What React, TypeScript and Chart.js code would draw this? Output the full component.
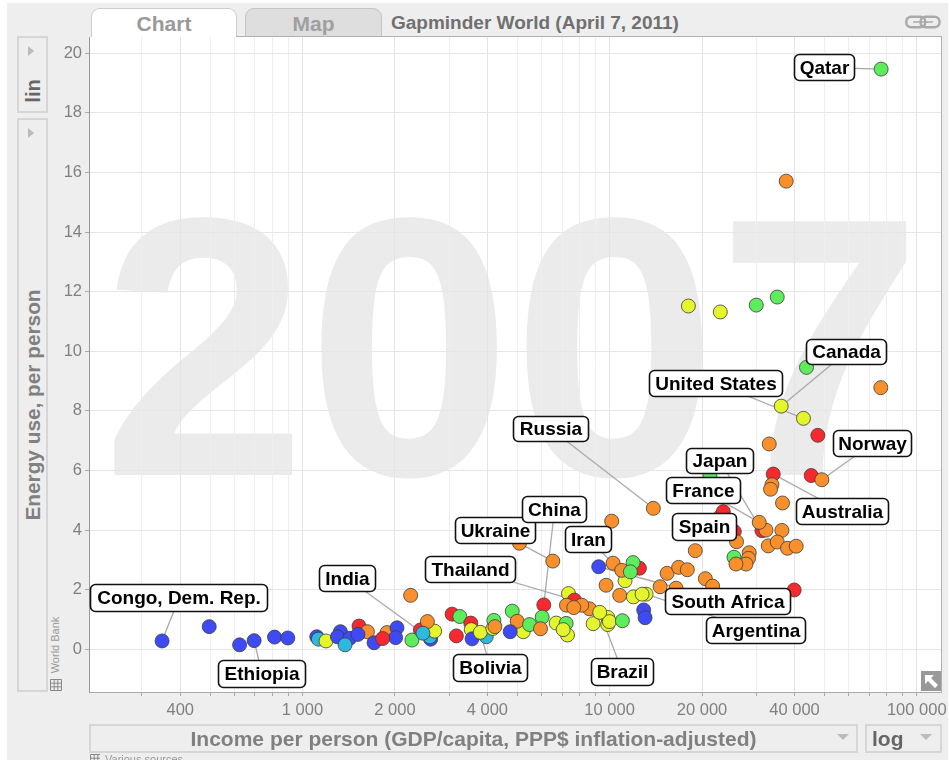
import React, { useEffect, useRef } from "react";
import { Chart, registerables } from "chart.js";

Chart.register(...registerables);

const FONT = '"Liberation Sans", Arial, sans-serif';

const regions = ["Sub-Saharan Africa", "South Asia", "Middle East & North Africa", "America", "Europe & Central Asia", "East Asia & Pacific"];
const regionColors = ["#3d4af5", "#2cb9dd", "#5cec5c", "#e4f52b", "#f9902c", "#f7292e"];
const B = 0, C = 1, G = 2, Y = 3, O = 4, R = 5;

const income = [
  349, 497, 624, 696, 811, 896, 1113, 1127, 1193, 1528, 1627, 1329, 1300, 1425, 1516, 1376, 1710, 1884, 2031, 2011, 1824,
  2420, 2614, 2600, 2693, 2551, 2272, 2467, 2250, 3070, 3252, 3532, 3170, 3545, 3566, 3967, 3793, 4167, 4199, 4230,
  4819, 5234, 5002, 4747, 5486, 6105, 6032, 5957, 6531, 5090, 10157, 13880,
  9215, 12500, 11230, 11925, 10265, 10950, 11685, 9741, 10785, 11950, 13145, 12760, 12910, 13045,
  7347, 7683, 8597, 8117, 7236, 7644, 9858, 8837, 9858, 9984, 11005, 9285, 6700, 7219, 7291, 7060,
  76560, 37580, 18050, 22930, 30020, 35140, 43750, 76380, 36200, 42770, 47640, 33090, 34100, 45330, 49090, 33770, 33420, 36560,
  21220, 22930, 23450, 31330, 32290, 30700, 36390, 25470, 25900, 32850, 35140, 37950, 40500, 19010, 25410, 28480, 28330, 27800, 25790,
  15390, 16780, 17910, 20500, 21640, 14600, 16460, 39900,
];
const energy = [
  0.28, 0.76, 0.15, 0.29, 0.41, 0.38, 0.42, 0.34, 0.28, 0.78, 0.59, 0.59, 0.42, 0.37, 0.5, 0.15, 0.22, 0.56, 0.72, 0.39, 0.36,
  0.65, 0.34, 0.42, 0.61, 0.93, 0.31, 0.54, 1.81, 1.18, 1.1, 0.88, 0.45, 0.66, 0.35, 0.42, 0.57, 0.7, 0.97, 0.76,
  1.28, 0.59, 0.94, 0.59, 0.83, 1.49, 1.08, 0.69, 2.96, 3.56, 4.3, 4.73,
  2.77, 2.72, 2.3, 2.91, 2.89, 2.65, 2.6, 2.15, 1.81, 1.76, 1.85, 1.85, 1.32, 1.06,
  1.87, 1.65, 1.36, 1.48, 1.48, 1.4, 1.07, 0.86, 0.83, 0.93, 0.96, 1.24, 0.88, 0.87, 0.48, 0.66,
  19.47, 15.71, 11.52, 11.32, 11.55, 11.82, 9.46, 8.78, 8.16, 7.75, 7.18, 6.89, 5.88, 5.83, 5.69, 5.52, 5.37, 4.91,
  5.82, 4.45, 4.62, 3.98, 4.0, 4.26, 3.99, 3.95, 3.61, 3.47, 3.6, 3.39, 3.46, 3.31, 3.09, 3.24, 3.05, 2.86, 2.86,
  2.55, 2.75, 2.67, 2.37, 2.12, 2.1, 2.05, 1.99,
];
const regionOf = [
  B, B, B, B, B, B, B, C, Y, R, O, B, B, B, B, C, B, O, B, B, R,
  R, B, C, Y, O, G, C, O, R, G, R, R, Y, B, C, Y, Y, G, O,
  G, Y, O, B, G, R, G, O, O, O, O, O,
  B, R, Y, G, O, O, G, O, O, Y, Y, Y, B, B,
  Y, R, O, O, O, O, Y, Y, Y, Y, G, Y, Y, G, Y, Y,
  G, O, Y, Y, G, G, G, O, Y, Y, R, O, R, R, O, O, O, O,
  G, O, R, R, O, O, O, R, O, O, O, O, O, O, G, O, O, O, O,
  O, O, O, O, O, O, O, R,
];

const yearLabel = "2007";
const labelNames = ["Qatar", "Canada", "United States", "Norway", "Japan", "France", "Australia", "Spain", "Russia", "Ukraine", "China", "Iran", "Thailand", "South Africa", "Argentina", "Brazil", "Bolivia", "India", "Congo, Dem. Rep.", "Ethiopia"];
const labelIncome = [76560, 36200, 42770, 49090, 31330, 30700, 34100, 25900, 13880, 6531, 6105, 10265, 7683, 9215, 13145, 9285, 3793, 2467, 349, 696];
// label box layout in canvas pixels: left, top, right, bottom
const labelBoxes = [
  [794, 54, 855, 81], [806, 339, 887, 365], [649, 370, 783, 397], [833, 430, 912, 457], [686, 448, 754, 474],
  [666, 477, 741, 504], [796, 498, 889, 525], [672, 513, 737, 541], [513, 416, 589, 442], [455, 517, 536, 544],
  [522, 496, 587, 523], [565, 526, 612, 553], [425, 556, 516, 583], [665, 588, 791, 615], [706, 617, 806, 644],
  [591, 658, 654, 686], [453, 654, 528, 682], [319, 565, 376, 592], [90, 584, 268, 612], [218, 660, 306, 688],
];

const xTicks = [300, 400, 500, 600, 700, 800, 900, 1000, 2000, 3000, 4000, 5000, 6000, 7000, 8000, 9000, 10000, 20000, 30000, 40000, 50000, 60000, 70000, 80000, 90000, 100000];
const xLabelled = [400, 1000, 2000, 4000, 10000, 20000, 40000, 100000];
const yTicks = [0, 2, 4, 6, 8, 10, 12, 14, 16, 18, 20];

const overlay = {
  id: "overlay",
  beforeDraw(chart: any) {
    const { ctx, chartArea: a } = chart;
    ctx.save();
    ctx.fillStyle = "#ffffff";
    ctx.fillRect(a.left, a.top, a.right - a.left, a.bottom - a.top);
    ctx.fillStyle = "#ebebeb";
    ctx.textAlign = "center";
    ctx.textBaseline = "alphabetic";
    ctx.font = `bold 369px ${FONT}`;
    ctx.fillText(yearLabel, 512, 475);
    ctx.restore();
  },
  beforeDatasetsDraw(chart: any) {
    const { ctx, chartArea: a, scales } = chart;
    ctx.save();
    ctx.strokeStyle = "#b0b0b0";
    ctx.lineWidth = 1;
    ctx.beginPath();
    ctx.moveTo(a.right + 0.5, a.top);
    ctx.lineTo(a.right + 0.5, a.bottom);
    ctx.moveTo(236, a.top - 0.5);
    ctx.lineTo(a.right + 1, a.top - 0.5);
    ctx.stroke();
    ctx.strokeStyle = "#aaaaaa";
    ctx.lineWidth = 1.3;
    labelNames.forEach((_, i) => {
      const k = income.indexOf(labelIncome[i]);
      const b = labelBoxes[i];
      ctx.beginPath();
      ctx.moveTo(scales.x.getPixelForValue(income[k]), scales.y.getPixelForValue(energy[k]));
      ctx.lineTo((b[0] + b[2]) / 2, (b[1] + b[3]) / 2);
      ctx.stroke();
    });
    ctx.restore();
  },
  afterDatasetsDraw(chart: any) {
    const { ctx } = chart;
    ctx.save();
    ctx.font = `bold 19px ${FONT}`;
    ctx.textAlign = "center";
    ctx.textBaseline = "middle";
    labelNames.forEach((name, i) => {
      const b = labelBoxes[i];
      ctx.beginPath();
      ctx.roundRect(b[0] + 0.5, b[1] + 0.5, b[2] - b[0] - 1, b[3] - b[1] - 1, 5);
      ctx.fillStyle = "#ffffff";
      ctx.fill();
      ctx.strokeStyle = "#111111";
      ctx.lineWidth = 1.6;
      ctx.stroke();
      ctx.fillStyle = "#000000";
      ctx.fillText(name, (b[0] + b[2]) / 2, (b[1] + b[3]) / 2 + 1);
    });
    ctx.restore();
  },
};

const abs = (left: number, top: number, width: number, height: number, extra: any = {}) => ({
  position: "absolute",
  left,
  top,
  width,
  height,
  boxSizing: "border-box",
  ...extra,
});

const rotated = (cx: number, cy: number, text: string, size: number, color: string, weight: string) => (
  <div
    style={{
      position: "absolute",
      left: cx,
      top: cy,
      transform: "translate(-50%,-50%) rotate(-90deg)",
      whiteSpace: "nowrap",
      font: `${weight} ${size}px ${FONT}`,
      color,
    }}
  >
    {text}
  </div>
);

const Arrow = ({ x, y, dir, color = "#bbb" }: any) => (
  <div
    style={
      dir === "right"
        ? { position: "absolute", left: x, top: y, width: 0, height: 0, borderTop: "5px solid transparent", borderBottom: "5px solid transparent", borderLeft: `6px solid ${color}` }
        : { position: "absolute", left: x, top: y, width: 0, height: 0, borderLeft: "6px solid transparent", borderRight: "6px solid transparent", borderTop: `6px solid ${color}` }
    }
  />
);

const GridIcon = ({ x, y }: any) => (
  <svg style={{ position: "absolute", left: x, top: y }} width="12" height="12">
    <path d="M.5.5h11v11H.5zM.5 4.2h11M.5 7.8h11M4.2.5v11M7.8.5v11" fill="none" stroke="#888" strokeWidth="1" />
  </svg>
);

export default function App() {
  const ref = useRef<HTMLCanvasElement>(null);
  useEffect(() => {
    const chart = new Chart(ref.current as any, {
      type: "scatter",
      data: {
        datasets: [
          {
            label: "Countries",
            data: income.map((v, i) => ({ x: v, y: energy[i] })),
            pointRadius: 7,
            pointBorderWidth: 1,
            pointBorderColor: "rgba(60,60,60,0.8)",
            pointBackgroundColor: regionOf.map((r) => regionColors[r]),
          },
        ],
      },
      plugins: [overlay],
      options: {
        animation: false,
        responsive: false,
        events: [],
        layout: { padding: { top: 37, right: 7, left: 0, bottom: 0 } },
        plugins: { legend: { display: false }, tooltip: { enabled: false }, title: { display: false } },
        scales: {
          x: {
            type: "logarithmic",
            min: 201.8,
            max: 119950,
            afterFit: (s: any) => { s.height = 68; s.paddingLeft = 0; s.paddingRight = 0; },
            afterBuildTicks: (s: any) => { s.ticks = xTicks.map((value) => ({ value })); },
            grid: {
              color: (c: any) => (xLabelled.includes(c.tick?.value) ? "#e4e4e4" : "#eeeeee"),
              lineWidth: 1,
              tickLength: 4,
              tickColor: "#aaaaaa",
            },
            border: { color: "#aaaaaa", width: 1 },
            ticks: {
              autoSkip: false,
              maxRotation: 0,
              padding: 5,
              color: "#808080",
              font: { family: FONT, size: 16.5 },
              callback: (v: any) => (xLabelled.includes(v) ? String(v).replace(/\B(?=(\d{3})+$)/g, " ") : ""),
            },
          },
          y: {
            type: "linear",
            min: -1.433,
            max: 20.547,
            afterFit: (s: any) => { s.width = 89; s.paddingTop = 0; s.paddingBottom = 0; },
            afterBuildTicks: (s: any) => { s.ticks = yTicks.map((value) => ({ value })); },
            grid: { color: "#e6e6e6", lineWidth: 1, tickLength: 4, tickColor: "#aaaaaa" },
            border: { color: "#999999", width: 1 },
            ticks: { padding: 3, color: "#808080", font: { family: FONT, size: 16.5 } },
          },
        },
      } as any,
    });
    return () => chart.destroy();
  }, []);

  const boxBorder = "2px solid #d6d6d6";
  return (
    <div style={abs(0, 0, 949, 760, { background: "#ffffff", overflow: "hidden" }) as any}>
      <div style={abs(7, 3, 941, 757, { background: "#eeeeee" }) as any} />
      <div style={abs(91, 8, 146, 30, { background: "#ffffff", border: "1px solid #cccccc", borderBottom: "none", borderRadius: "9px 9px 0 0", textAlign: "center", font: `bold 21px/29px ${FONT}`, color: "#999999" }) as any}>Chart</div>
      <div style={abs(245, 8, 137, 29, { background: "#dedede", border: "1px solid #c4c4c4", borderRadius: "9px 9px 0 0", textAlign: "center", font: `bold 21px/29px ${FONT}`, color: "#a0a0a0" }) as any}>Map</div>
      <div style={abs(236, 36, 146, 1, { background: "#999999" }) as any} />
      <div style={{ position: "absolute", left: 391, top: 12, whiteSpace: "nowrap", font: `bold 19px ${FONT}`, color: "#707070" }}>Gapminder World (April 7, 2011)</div>
      <svg style={{ position: "absolute", left: 905, top: 15 }} width="36" height="14">
        <rect x="1.25" y="1.75" width="19" height="10.5" rx="5" fill="none" stroke="#aaaaaa" strokeWidth="2.5" />
        <rect x="15.5" y="1.75" width="19" height="10.5" rx="5" fill="none" stroke="#aaaaaa" strokeWidth="2.5" />
        <path d="M8 7h20" stroke="#aaaaaa" strokeWidth="1.5" />
      </svg>

      <div style={abs(17, 36, 31, 77, { border: boxBorder }) as any} />
      <Arrow x={28} y={46} dir="right" />
      {rotated(33, 91, "lin", 20, "#666666", "bold")}
      <div style={abs(17, 118, 31, 574, { border: boxBorder }) as any} />
      <Arrow x={28} y={128} dir="right" />
      {rotated(33, 405, "Energy use, per person", 20.8, "#808080", "bold")}
      {rotated(55, 645, "World Bank", 11, "#999999", "normal")}
      <GridIcon x={50} y={679} />

      <canvas ref={ref} width={949} height={760} style={{ position: "absolute", left: 0, top: 0 }} />

      <div style={abs(921, 671, 20, 20, { background: "#999999" }) as any}>
        <svg width="20" height="20" style={{ display: "block" }}>
          <path d="M4 4h9l-3 3 7 7-3 3-7-7-3 3z" fill="#ffffff" />
        </svg>
      </div>

      <div style={abs(89, 724, 769, 29, { border: boxBorder, textAlign: "center", font: `bold 21px/25px ${FONT}`, color: "#808080" }) as any}>Income per person (GDP/capita, PPP$ inflation-adjusted)</div>
      <Arrow x={837} y={734} dir="down" />
      <div style={abs(865, 724, 77, 29, { border: boxBorder, paddingLeft: 5, font: `bold 21px/25px ${FONT}`, color: "#666666" }) as any}>log</div>
      <Arrow x={920} y={734} dir="down" />
      <div style={{ position: "absolute", left: 90, top: 754, width: 10, height: 6, overflow: "hidden" }}><GridIcon x={0} y={0} /></div>
      <div style={{ position: "absolute", left: 105, top: 753, whiteSpace: "nowrap", font: `11px ${FONT}`, color: "#999999" }}>Various sources</div>
    </div>
  );
}
